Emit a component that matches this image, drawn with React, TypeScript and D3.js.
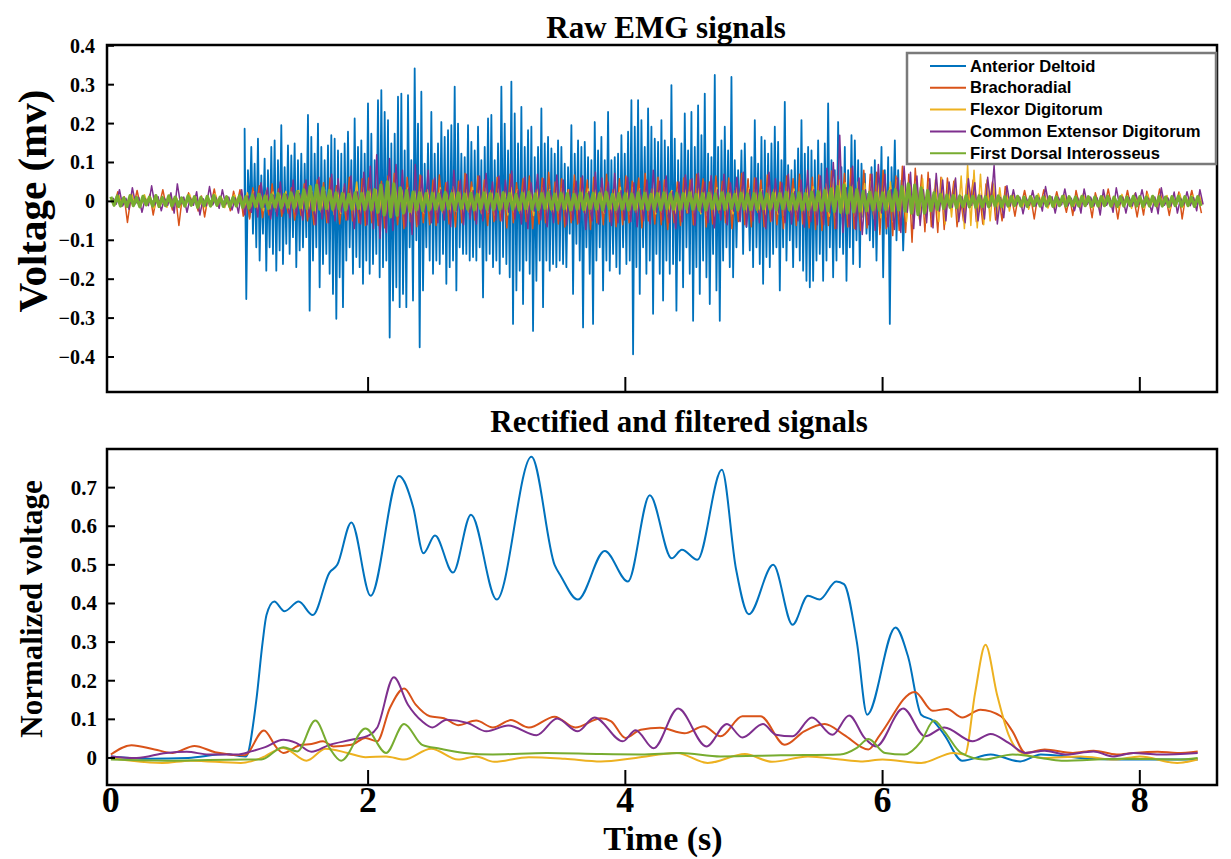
import React from "react";
import * as d3 from "d3";

// ---------- Series meta ----------
const seriesNames = [
  "Anterior Deltoid",
  "Brachoradial",
  "Flexor Digitorum",
  "Common Extensor Digitorum",
  "First Dorsal Interosseus",
];
const seriesColors = ["#0072BD", "#D95319", "#EDB120", "#7E2F8E", "#77AC30"];

// ---------- Axis ticks ----------
const rawYTicks = [-0.4, -0.3, -0.2, -0.1, 0, 0.1, 0.2, 0.3, 0.4];
const normYTicks = [0, 0.1, 0.2, 0.3, 0.4, 0.5, 0.6, 0.7];
const timeTicks = [0, 2, 4, 6, 8];

// ---------- Raw EMG (values in 1e-3 mV) ----------
// Anterior Deltoid active burst: alternating positive / negative spike extremes
const blueStart = 1.04;
const blueEnd = 6.16;
const bluePos = [
  187, 80, 140, 97, 161, 67, 110, 80, 140, 157, 106, 196, 88, 144, 118, 149, 106, 123, 97, 222, 166, 123, 200, 140, 106,
  144, 170, 161, 131, 123, 149, 179, 106, 213, 140, 157, 123, 252, 174, 106, 260, 286, 230, 209, 149, 174, 269,
  277, 131, 273, 106, 342, 200, 282, 97, 149, 230, 123, 149, 204, 166, 183, 196, 295, 200, 123, 114, 196, 153, 131, 192,
  106, 140, 213, 222, 106, 149, 295, 200, 131, 308, 226, 149, 243, 140, 183, 192, 114, 140, 239, 149, 166, 136, 123, 157, 140,
  97, 88, 196, 123, 157, 140, 153, 114, 106, 204, 131, 166, 106, 230, 106, 114, 123, 170, 123, 179, 260, 192, 260, 209, 140,
  239, 192, 161, 153, 209, 157, 140, 299, 161, 106, 149, 226, 131, 230, 140, 247, 170, 277, 123, 114, 325, 140, 157, 192, 131, 320, 106,
  80, 131, 149, 54, 114, 209, 97, 166, 157, 123, 149, 192, 153, 106, 256, 93, 80, 106, 136, 209, 123, 140, 131, 106, 157,
  97, 149, 252, 106, 80, 204, 88, 140, 80, 170, 157, 106, 97, 71, 20, 88, 106, 71, 140, 80, 114, 88, 157, 80, 54,
];
const blueNeg = [
  251, 40, 83, 118, 152, 83, 178, 118, 135, 178, 126, 161, 109, 135, 92, 169, 126, 118, 92, 281, 152, 118, 221, 161, 135,
  186, 238, 302, 195, 272, 152, 118, 186, 143, 169, 212, 152, 186, 161, 135, 195, 169, 152, 350, 255, 221, 272, 238,
  272, 118, 255, 100, 375, 229, 118, 152, 186, 152, 161, 135, 212, 169, 152, 229, 118, 135, 135, 152, 143, 152, 118, 247,
  152, 135, 169, 152, 186, 143, 161, 195, 315, 229, 178, 264, 152, 186, 333, 204, 152, 272, 152, 178, 161, 169, 152, 161,
  169, 83, 238, 109, 152, 324, 118, 186, 315, 152, 118, 229, 152, 178, 135, 169, 186, 118, 161, 152, 393, 169, 238, 118, 186,
  152, 289, 135, 186, 255, 152, 186, 161, 281, 152, 221, 118, 186, 307, 169, 238, 152, 195, 264, 135, 229, 307, 152, 118, 169, 195, 118,
  49, 135, 66, 126, 169, 118, 161, 212, 143, 169, 135, 118, 229, 118, 152, 100, 169, 118, 152, 178, 204, 221, 204, 152, 135,
  204, 152, 118, 195, 152, 118, 135, 204, 118, 161, 100, 169, 40, 83, 100, 118, 152, 66, 195, 83, 315, 49, 100, 40, 126,
];

// Background channels: alternating extremes, one sample every 0.025 s,
// each channel's first sample at its own start time
const rawDt = 0.025;
const rawStart = [0, 0.004, 0.011, 0.017, 0.0];
const orangeRaw = [
  8, -6, 25, -10, 12, -54, 6, -9, 28, -12, 10, -8, 18, -35, 9, -7, 30, -11, 7, -22,
  11, -62, 8, -10, 22, -9, 6, -25, 14, -40, 9, -8, 32, -12, 7, -10, 12, -24, 26, -9,
  30, -38, 12, -45, 35, -14, 40, -42, 15, -35, 45, -18, 32, -38, 16, -30, 35, -48, 18, -36,
  45, -50, 20, -60, 55, -22, 48, -55, 60, -25, 40, -58, 22, -48, 62, -50, 25, -55, 58, -62,
  60, -55, 30, -62, 52, -68, 65, -28, 72, -60, 32, -70, 62, -52, 25, -65, 68, -55, 30, -60,
  55, -62, 68, -28, 48, -58, 30, -66, 52, -55, 72, -25, 50, -48, 65, -30, 55, -62, 28, -52,
  62, -50, 25, -68, 70, -55, 48, -30, 58, -52, 65, -70, 28, -58, 60, -55, 75, -25, 50, -58,
  58, -66, 30, -55, 68, -58, 60, -28, 55, -72, 62, -55, 25, -60, 70, -52, 30, -65, 58, -60,
  65, -55, 52, -28, 60, -68, 72, -50, 30, -58, 62, -60, 55, -72, 25, -55, 50, -62, 60, -30,
  55, -60, 70, -25, 58, -66, 50, -58, 65, -30, 52, -55, 60, -70, 28, -52, 72, -60, 58, -65,
  60, -28, 55, -65, 68, -52, 30, -60, 50, -70, 65, -25, 58, -62, 70, -58, 30, -68, 62, -72,
  68, -75, 35, -62, 78, -70, 65, -30, 72, -66, 85, -70, 32, -75, 80, -68, 70, -35, 75, -85,
  80, -70, 35, -88, 65, -75, 90, -80, 70, -105, 85, -30, 68, -78, 75, -65, 32, -80, 62, -72,
  60, -20, 52, -65, 15, -50, 48, -12, 55, -52, 20, -58, 45, -15, 50, -48, 12, -50, 38, -15,
  9, -38, 12, -8, 28, -10, 7, -45, 10, -9, 30, -12, 8, -11, 25, -10, 6, -28, 12, -36,
  28, -9, 10, -12, 7, -42, 22, -8, 9, -11, 32, -10, 8, -45, 11, -9, 28, -12, 7, -40,
  10, -35, 26, -8, 9, -12, 32, -9, 8, -36, 11, -10, 24, -45, 9, -8, 28, -11, 10, -30,
];
const yellowRaw = [
  8, -6, 15, -9, 7, -16, 20, -5, 9, -8, 17, -7, 6, -18, 10, -9, 7, -15, 18, -6,
  9, -16, 7, -8, 19, -6, 10, -12, 8, -17, 6, -9, 20, -7, 9, -16, 8, -10, 17, -6,
  18, -20, 22, -18, 25, -22, 20, -24, 28, -20, 24, -26, 22, -20, 26, -24, 20, -22, 28, -25,
  30, -25, 26, -32, 35, -28, 30, -26, 28, -34, 32, -30, 36, -28, 30, -32, 50, -30, 35, -28,
  32, -35, 30, -28, 36, -32, 28, -30, 34, -36, 30, -28, 35, -32, 28, -34, 32, -30, 30, -28,
  30, -28, 35, -32, 28, -30, 38, -26, 32, -34, 30, -28, 36, -30, 28, -32, 34, -28, 30, -35,
  32, -30, 28, -35, 36, -28, 30, -32, 34, -30, 28, -36, 32, -28, 35, -30, 30, -34, 28, -30,
  34, -28, 30, -32, 28, -35, 36, -30, 32, -28, 30, -34, 35, -30, 28, -32, 32, -28, 36, -30,
  30, -34, 36, -28, 32, -30, 28, -35, 34, -32, 30, -28, 36, -34, 28, -30, 32, -36, 30, -28,
  28, -30, 34, -32, 30, -36, 32, -28, 35, -30, 28, -34, 30, -32, 36, -28, 32, -30, 34, -32,
  32, -30, 30, -34, 36, -28, 34, -32, 30, -36, 38, -30, 32, -34, 35, -30, 40, -36, 38, -34,
  40, -35, 45, -38, 50, -42, 55, -40, 48, -45, 42, -38, 50, -44, 46, -40, 52, -45, 48, -42,
  45, -40, 50, -48, 55, -45, 48, -52, 60, -50, 52, -46, 58, -55, 50, -48, 55, -52, 60, -58,
  45, -40, 55, -50, 65, -70, 93, -62, 80, -68, 70, -60, 55, -50, 45, -40, 35, -30, 28, -25,
  20, -8, 9, -16, 7, -20, 10, -8, 20, -6, 9, -17, 8, -19, 10, -7, 17, -9, 6, -15,
  8, -16, 20, -7, 9, -17, 6, -20, 16, -8, 10, -15, 7, -19, 18, -6, 9, -18, 20, -8,
  7, -18, 19, -9, 10, -17, 8, -6, 15, -19, 7, -8, 20, -16, 9, -7, 16, -9, 17, -8,
];
const purpleRaw = [
  9, -7, 30, -12, 8, -20, 35, -6, 10, -28, 7, -11, 40, -9, 12, -24, 8, -10, 22, -30,
  45, -8, 11, -28, 9, -10, 25, -35, 7, -12, 38, -9, 10, -18, 30, -8, 11, -22, 9, -30,
  30, -35, 14, -28, 25, -40, 48, -15, 35, -45, 16, -38, 50, -30, 18, -42, 55, -35, 20, -48,
  55, -40, 22, -60, 62, -45, 25, -55, 70, -50, 58, -28, 45, -48, 65, -70, 24, -58, 75, -60,
  90, -70, 120, -95, 45, -80, 110, -75, 95, -40, 80, -65, 35, -85, 95, -60, 65, -30, 80, -55,
  60, -55, 30, -48, 50, -65, 80, -25, 55, -60, 70, -45, 28, -58, 65, -50, 72, -30, 50, -48,
  65, -50, 55, -28, 78, -45, 30, -58, 62, -70, 48, -25, 70, -48, 58, -65, 28, -55, 68, -50,
  55, -60, 30, -48, 52, -55, 65, -72, 25, -50, 75, -58, 60, -30, 50, -62, 72, -55, 28, -48,
  62, -52, 48, -65, 30, -50, 55, -58, 80, -28, 52, -48, 65, -55, 25, -70, 50, -52, 68, -30,
  58, -62, 72, -28, 50, -55, 66, -68, 30, -48, 70, -60, 48, -25, 62, -52, 75, -65, 30, -50,
  60, -55, 28, -70, 75, -50, 58, -30, 48, -55, 70, -58, 25, -50, 55, -66, 80, -52, 30, -60,
  65, -60, 85, -30, 100, -70, 170, -80, 35, -65, 90, -72, 60, -85, 30, -60, 70, -75, 95, -30,
  70, -65, 30, -72, 60, -80, 90, -28, 75, -70, 65, -62, 30, -55, 58, -68, 72, -25, 55, -50,
  50, -15, 60, -52, 12, -55, 58, -10, 48, -50, 15, -45, 62, -12, 93, -58, 10, -42, 40, -12,
  30, -9, 11, -32, 8, -10, 28, -12, 9, -25, 38, -8, 12, -30, 10, -9, 32, -11, 8, -24,
  9, -30, 32, -8, 11, -12, 9, -35, 30, -10, 8, -28, 35, -9, 11, -30, 10, -12, 22, -8,
  30, -9, 8, -28, 11, -32, 35, -10, 9, -12, 24, -30, 8, -9, 25, -11, 10, -24, 30, -8,
];
const greenRaw = [
  12, -10, 14, -12, 9, -13, 15, -11, 10, -14, 13, -9, 11, -12, 15, -13, 10, -11, 14, -12,
  11, -13, 9, -12, 14, -10, 12, -15, 10, -11, 13, -12, 15, -10, 11, -13, 12, -14, 10, -12,
  14, -15, 12, -17, 16, -13, 18, -15, 14, -18, 17, -14, 20, -16, 18, -15, 22, -17, 25, -16,
  30, -18, 38, -22, 42, -20, 35, -18, 28, -20, 22, -19, 20, -22, 18, -20, 22, -18, 20, -21,
  24, -22, 30, -28, 42, -35, 50, -40, 45, -36, 35, -30, 28, -26, 24, -22, 22, -24, 20, -22,
  21, -20, 19, -22, 23, -19, 20, -21, 22, -18, 19, -20, 21, -22, 18, -19, 22, -20, 20, -21,
  19, -21, 22, -18, 20, -20, 18, -22, 21, -19, 23, -20, 19, -21, 20, -18, 22, -20, 19, -22,
  21, -19, 20, -22, 18, -20, 22, -21, 19, -18, 21, -20, 20, -22, 23, -19, 18, -21, 20, -20,
  20, -22, 19, -20, 22, -19, 21, -21, 18, -20, 20, -22, 22, -19, 19, -20, 21, -21, 20, -19,
  22, -20, 18, -21, 20, -22, 21, -19, 19, -20, 22, -21, 20, -18, 18, -22, 21, -20, 19, -21,
  20, -21, 22, -19, 19, -20, 21, -22, 20, -19, 23, -21, 19, -20, 22, -22, 20, -21, 24, -22,
  25, -23, 28, -24, 32, -26, 38, -28, 42, -30, 36, -27, 30, -25, 26, -24, 24, -22, 22, -23,
  22, -21, 25, -24, 30, -22, 38, -25, 45, -30, 42, -34, 35, -30, 28, -24, 22, -20, 18, -18,
  16, -15, 15, -16, 14, -13, 15, -14, 13, -15, 14, -13, 12, -14, 13, -12, 14, -13, 12, -12,
  12, -11, 13, -12, 11, -13, 12, -11, 13, -12, 11, -12, 12, -13, 11, -11, 13, -12, 12, -11,
  11, -12, 13, -11, 12, -13, 11, -12, 12, -11, 13, -12, 11, -13, 12, -12, 11, -11, 13, -12,
  12, -13, 11, -12, 13, -11, 12, -12, 11, -13, 12, -11, 13, -12, 12, -11, 11, -13, 12, -12,
];

// ---------- Rectified & filtered (normalized) ----------
const blueT = [0, 0.3, 0.6, 0.9, 1.0, 1.05, 1.13, 1.18, 1.21, 1.27, 1.35, 1.46, 1.57, 1.70, 1.76, 1.87, 2.02, 2.24, 2.35, 2.43, 2.52, 2.66, 2.80, 3.00, 3.27, 3.45, 3.50, 3.63, 3.84, 4.02, 4.19, 4.36, 4.44, 4.56, 4.75, 4.86, 4.96, 5.15, 5.30, 5.42, 5.51, 5.64, 5.70, 5.80, 5.88, 6.10, 6.20, 6.30, 6.39, 6.48, 6.62, 6.84, 7.07, 7.23, 7.54, 7.86, 8.45];
const blueV = [0.004, -0.002, 0.0, 0.01, 0.005, 0.004, 0.147, 0.30, 0.37, 0.405, 0.38, 0.405, 0.37, 0.48, 0.50, 0.61, 0.42, 0.73, 0.65, 0.53, 0.576, 0.48, 0.63, 0.41, 0.78, 0.50, 0.47, 0.41, 0.536, 0.457, 0.68, 0.517, 0.539, 0.513, 0.746, 0.49, 0.372, 0.50, 0.345, 0.42, 0.41, 0.457, 0.45, 0.30, 0.112, 0.338, 0.26, 0.112, 0.097, 0.06, -0.007, 0.009, -0.009, 0.009, 0.0, -0.004, -0.004];
const orangeT = [0, 0.16, 0.34, 0.48, 0.65, 0.81, 1.04, 1.19, 1.29, 1.34, 1.48, 1.56, 1.65, 1.73, 1.87, 1.98, 2.07, 2.17, 2.28, 2.37, 2.48, 2.59, 2.70, 2.84, 2.97, 3.11, 3.25, 3.45, 3.61, 3.81, 3.89, 4.0, 4.12, 4.27, 4.46, 4.61, 4.74, 4.91, 5.05, 5.24, 5.39, 5.55, 5.70, 5.89, 5.98, 6.25, 6.39, 6.50, 6.62, 6.76, 6.92, 7.01, 7.11, 7.26, 7.48, 7.64, 7.82, 7.95, 8.14, 8.29, 8.45];
const orangeV = [0.009, 0.033, 0.022, 0.013, 0.031, 0.015, 0.007, 0.071, 0.026, 0.013, 0.034, 0.036, 0.043, 0.03, 0.034, 0.052, 0.043, 0.13, 0.18, 0.138, 0.108, 0.103, 0.085, 0.097, 0.079, 0.098, 0.079, 0.107, 0.079, 0.103, 0.095, 0.052, 0.073, 0.078, 0.064, 0.082, 0.056, 0.108, 0.108, 0.034, 0.069, 0.088, 0.06, 0.022, 0.06, 0.171, 0.122, 0.127, 0.105, 0.125, 0.108, 0.069, 0.013, 0.022, 0.013, 0.019, 0.009, 0.013, 0.016, 0.013, 0.017];
const yellowT = [0, 0.40, 0.62, 1.01, 1.17, 1.34, 1.52, 1.67, 1.84, 1.98, 2.14, 2.28, 2.49, 2.70, 2.84, 2.98, 3.25, 3.53, 3.81, 4.08, 4.40, 4.64, 4.93, 5.14, 5.42, 5.67, 5.83, 6.0, 6.30, 6.55, 6.64, 6.72, 6.80, 6.89, 6.98, 7.08, 7.25, 7.54, 7.80, 8.0, 8.29, 8.45];
const yellowV = [0, -0.013, -0.007, -0.013, 0, 0.026, -0.007, 0.024, 0.013, 0.002, 0.004, -0.004, 0.024, -0.004, 0.004, -0.01, 0.002, -0.002, -0.009, 0, 0.013, -0.013, 0.01, -0.01, 0.004, -0.004, -0.009, -0.004, -0.013, 0.013, 0.009, 0.17, 0.293, 0.164, 0.06, 0.013, 0, 0.004, -0.004, 0.004, -0.013, -0.004];
const purpleT = [0, 0.2, 0.43, 0.59, 0.76, 0.98, 1.09, 1.20, 1.34, 1.44, 1.56, 1.70, 1.87, 2.01, 2.07, 2.20, 2.31, 2.42, 2.50, 2.61, 2.78, 2.92, 3.09, 3.31, 3.47, 3.63, 3.76, 3.98, 4.08, 4.22, 4.41, 4.63, 4.79, 4.91, 5.07, 5.17, 5.30, 5.45, 5.61, 5.74, 5.86, 5.95, 6.16, 6.33, 6.48, 6.70, 6.84, 6.98, 7.11, 7.26, 7.42, 7.64, 7.79, 7.95, 8.15, 8.45];
const purpleV = [0.004, 0.0, 0.013, 0.016, 0.009, 0.009, 0.017, 0.028, 0.047, 0.039, 0.016, 0.034, 0.047, 0.059, 0.078, 0.209, 0.138, 0.095, 0.079, 0.099, 0.09, 0.069, 0.084, 0.059, 0.102, 0.069, 0.105, 0.043, 0.072, 0.025, 0.128, 0.03, 0.088, 0.053, 0.088, 0.06, 0.056, 0.105, 0.06, 0.11, 0.052, 0.03, 0.128, 0.056, 0.079, 0.043, 0.062, 0.039, 0.013, 0.019, 0.009, 0.017, 0.004, 0.013, 0.009, 0.013];
const greenT = [0, 0.48, 1.04, 1.17, 1.34, 1.45, 1.59, 1.70, 1.79, 1.98, 2.14, 2.28, 2.42, 2.56, 2.75, 2.97, 3.39, 3.81, 4.12, 4.43, 4.74, 5.21, 5.67, 5.80, 5.89, 6.02, 6.17, 6.30, 6.40, 6.48, 6.61, 6.79, 7.01, 7.23, 7.39, 7.86, 8.29, 8.45];
const greenV = [-0.004, -0.007, -0.004, -0.004, 0.028, 0.017, 0.097, 0.026, -0.007, 0.076, 0.013, 0.088, 0.034, 0.024, 0.013, 0.009, 0.013, 0.01, 0.009, 0.013, 0.004, 0.007, 0.009, 0.026, 0.049, 0.013, 0.009, 0.043, 0.097, 0.069, 0.013, -0.004, 0.009, 0, -0.007, -0.002, -0.004, 0];

type Pt = [number, number];

const W = 1231;
const H = 859;
const plotL = 107;
const plotR = 1217;
const top1 = 45;
const bot1 = 392;
const top2 = 449;
const bot2 = 785;

const serif = "'Liberation Serif', 'Times New Roman', serif";
const sans = "'Liberation Sans', Arial, Helvetica, sans-serif";

export default function App() {
  const x = d3.scaleLinear().domain([-0.03, 8.6]).range([plotL, plotR]);
  const y1 = d3.scaleLinear().domain([-0.49, 0.402]).range([bot1, top1]);
  const y2 = d3.scaleLinear().domain([-0.07, 0.8]).range([bot2, top2]);

  const rawLine = d3
    .line<Pt>()
    .x((d) => x(d[0]))
    .y((d) => y1(d[1]));
  const smoothLine = d3
    .line<Pt>()
    .x((d) => x(d[0]))
    .y((d) => y2(d[1]))
    .curve(d3.curveMonotoneX);

  const bgRaw = (arr: number[], start: number): Pt[] =>
    arr.map((v, i) => [start + i * rawDt, v / 1000]);
  const bluePts: Pt[] = [[0, 0], [blueStart, 0]];
  const nB = bluePos.length;
  const stepB = (blueEnd - blueStart) / (2 * nB - 1);
  for (let i = 0; i < nB; i++) {
    bluePts.push([blueStart + 2 * i * stepB, bluePos[i] / 1000]);
    bluePts.push([blueStart + (2 * i + 1) * stepB, -blueNeg[i] / 1000]);
  }
  bluePts.push([blueEnd + stepB, 0], [8.45, 0]);

  const rawSeries: Pt[][] = [
    bluePts,
    bgRaw(orangeRaw, rawStart[1]),
    bgRaw(yellowRaw, rawStart[2]),
    bgRaw(purpleRaw, rawStart[3]),
    bgRaw(greenRaw, rawStart[4]),
  ];
  const rawWidths = [1.8, 1.5, 1.5, 1.5, 3.2];
  const zip = (t: number[], v: number[]): Pt[] => t.map((tt, i) => [tt, v[i]]);
  const smoothSeries: Pt[][] = [
    zip(blueT, blueV),
    zip(orangeT, orangeV),
    zip(yellowT, yellowV),
    zip(purpleT, purpleV),
    zip(greenT, greenV),
  ];

  const legX = 907;
  const legY = 53;
  const legW = 309;
  const legH = 111;
  const legRow = 21.8;

  return (
    <svg
      width={W}
      height={H}
      viewBox={`0 0 ${W} ${H}`}
      style={{ position: "absolute", left: 0, top: 0, background: "#fff" }}
    >
      <defs>
        <clipPath id="clip1">
          <rect x={plotL} y={top1} width={plotR - plotL} height={bot1 - top1} />
        </clipPath>
        <clipPath id="clip2">
          <rect x={plotL} y={top2} width={plotR - plotL} height={bot2 - top2} />
        </clipPath>
      </defs>
      <rect x={0} y={0} width={W} height={H} fill="#fff" />

      {/* ---------- Panel 1 ---------- */}
      <text x={666} y={38} textAnchor="middle" fontFamily={serif} fontWeight="bold" fontSize={31}>
        Raw EMG signals
      </text>
      <g clipPath="url(#clip1)">
        {rawSeries.map((pts, i) => (
          <path
            key={i}
            d={rawLine(pts) || ""}
            fill="none"
            stroke={seriesColors[i]}
            strokeWidth={rawWidths[i]}
            strokeLinejoin="round"
          />
        ))}
      </g>
      {rawYTicks.map((t) => (
        <g key={t}>
          <line x1={plotL} x2={plotL + 7} y1={y1(t)} y2={y1(t)} stroke="#000" strokeWidth={2} />
          <text
            x={95}
            y={y1(t)}
            textAnchor="end"
            dominantBaseline="central"
            fontFamily={serif}
            fontWeight="bold"
            fontSize={20}
          >
            {t === 0 ? "0" : d3.format(".1f")(t)}
          </text>
        </g>
      ))}
      {timeTicks.slice(1).map((t) => (
        <line key={t} x1={x(t)} x2={x(t)} y1={bot1} y2={bot1 - 15} stroke="#000" strokeWidth={2} />
      ))}
      <rect x={plotL} y={top1} width={plotR - plotL} height={bot1 - top1} fill="none" stroke="#000" strokeWidth={2.5} />
      <text
        transform={`translate(32, 201) rotate(-90)`}
        textAnchor="middle"
        dominantBaseline="central"
        fontFamily={serif}
        fontWeight="bold"
        fontSize={41}
      >
        Voltage (mv)
      </text>

      {/* Legend */}
      <rect x={legX} y={legY} width={legW} height={legH} fill="#fff" stroke="#7a7a7a" strokeWidth={2.5} />
      {seriesNames.map((n, i) => (
        <g key={n}>
          <line
            x1={legX + 23}
            x2={legX + 59}
            y1={legY + 13 + i * legRow}
            y2={legY + 13 + i * legRow}
            stroke={seriesColors[i]}
            strokeWidth={2}
          />
          <text
            x={legX + 63}
            y={legY + 13 + i * legRow}
            dominantBaseline="central"
            fontFamily={sans}
            fontWeight="bold"
            fontSize={16.6}
          >
            {n}
          </text>
        </g>
      ))}

      {/* ---------- Panel 2 ---------- */}
      <text x={679} y={432} textAnchor="middle" fontFamily={serif} fontWeight="bold" fontSize={31}>
        Rectified and filtered signals
      </text>
      <g clipPath="url(#clip2)">
        {smoothSeries.map((pts, i) => (
          <path key={i} d={smoothLine(pts) || ""} fill="none" stroke={seriesColors[i]} strokeWidth={2} />
        ))}
      </g>
      {normYTicks.map((t) => (
        <g key={t}>
          <line x1={plotL} x2={plotL + 8} y1={y2(t)} y2={y2(t)} stroke="#000" strokeWidth={2} />
          <text
            x={97}
            y={y2(t)}
            textAnchor="end"
            dominantBaseline="central"
            fontFamily={serif}
            fontWeight="bold"
            fontSize={21}
          >
            {t === 0 ? "0" : d3.format(".1f")(t)}
          </text>
        </g>
      ))}
      {timeTicks.map((t) => (
        <g key={t}>
          {t > 0 && <line x1={x(t)} x2={x(t)} y1={bot2} y2={bot2 - 15} stroke="#000" strokeWidth={2} />}
          <text x={x(t)} y={812} textAnchor="middle" fontFamily={serif} fontWeight="bold" fontSize={36}>
            {t}
          </text>
        </g>
      ))}
      <rect x={plotL} y={top2} width={plotR - plotL} height={bot2 - top2} fill="none" stroke="#000" strokeWidth={2.5} />
      <text x={663} y={850} textAnchor="middle" fontFamily={serif} fontWeight="bold" fontSize={34}>
        Time (s)
      </text>
      <text
        transform={`translate(31, 609) rotate(-90)`}
        textAnchor="middle"
        dominantBaseline="central"
        fontFamily={serif}
        fontWeight="bold"
        fontSize={31}
      >
        Normalized voltage
      </text>
    </svg>
  );
}
